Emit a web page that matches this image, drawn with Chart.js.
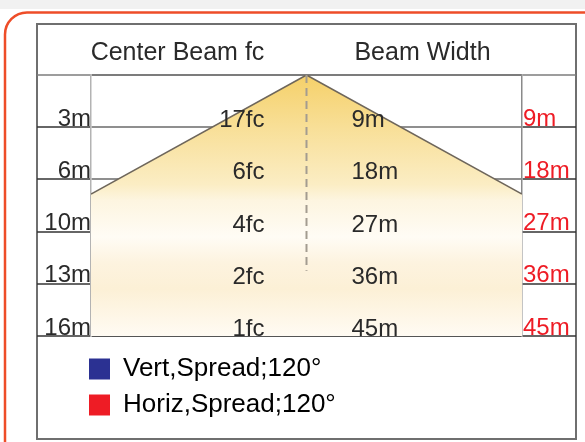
<!DOCTYPE html>
<html>
<head>
<meta charset="utf-8">
<script src="https://cdn.jsdelivr.net/npm/chart.js@4.4.1/dist/chart.umd.min.js"></script>
<style>
    html, body { margin: 0; padding: 0; background: #fff; }
    canvas { display: block; }
</style>
</head>
<body>
<canvas id="beamChart" width="585" height="442"></canvas>
<script>
// table values read from the sheet
const distances = ['3m', '6m', '10m', '13m', '16m'];
const centerBeamFc = ['17fc', '6fc', '4fc', '2fc', '1fc'];
const beamWidths = ['9m', '18m', '27m', '36m', '45m'];
const headers = ['Center Beam fc', 'Beam Width'];
const spreadNames = ['Vert', 'Horiz'];
const spreadAngles = [120, 120];
const beamAxisRows = [0, 3.75];

const spreadColors = ['#2b3192', '#ee1c25'];
const FONT = "'Liberation Sans', Arial, sans-serif";
const halfRange = 3.95; // half width of the drawing, in row units

Chart.defaults.font.family = FONT;

// beam outline: half the spread angle either side of the axis, until it meets the sides
const halfAngle = spreadAngles[0] / 2 * Math.PI / 180;
const edgeRow = halfRange / Math.tan(halfAngle);
const beamOutline = [
    { x: -halfRange, y: edgeRow },
    { x: 0, y: 0 },
    { x: halfRange, y: edgeRow }
];
const beamAxis = beamAxisRows.map(r => ({ x: 0, y: r }));

function beamFill(context) {
    const area = context.chart.chartArea;
    if (!area) {
        return 'rgba(0,0,0,0)';
    }
    const g = context.chart.ctx.createLinearGradient(0, area.top, 0, area.bottom);
    g.addColorStop(0, '#f5d069');
    g.addColorStop(0.2, '#f8df97');
    g.addColorStop(0.42, '#fbedc4');
    g.addColorStop(0.48, '#fdf5e0');
    g.addColorStop(0.62, '#fffcf5');
    g.addColorStop(0.72, '#fdf3df');
    g.addColorStop(0.82, '#fcf0d6');
    g.addColorStop(1, '#fffbf3');
    return g;
}

function rowGridColor(ctx) {
    const v = ctx.tick.value;
    if (v === 4) {
        return 'rgba(0,0,0,0)';
    }
    if (v === 0) {
        return '#7c7c7c';
    }
    if (v === distances.length) {
        return '#555555';
    }
    return '#8f8f8f';
}

function underlineColor(ctx) {
    return ctx.tick.value === 0 ? '#7c7c7c' : '#333333';
}

const tablePlugin = {
    id: 'beamTable',
    beforeDraw(chart) {
        const ctx = chart.ctx;
        const area = chart.chartArea;
        ctx.save();
        ctx.fillStyle = '#ffffff';
        ctx.fillRect(0, 0, chart.width, chart.height);
        ctx.fillStyle = '#f1f1f1';
        ctx.fillRect(0, 0, chart.width, 9);

        // orange card outline
        ctx.strokeStyle = '#ee4d28';
        ctx.lineWidth = 2.5;
        ctx.beginPath();
        ctx.moveTo(5, chart.height + 10);
        ctx.arcTo(5, 12.5, chart.width + 20, 12.5, 22);
        ctx.lineTo(chart.width + 20, 12.5);
        ctx.stroke();

        // table frame
        const left = chart.scales.y.left;
        const right = chart.scales.y2.right;
        ctx.strokeStyle = '#6f6f6f';
        ctx.lineWidth = 2;
        ctx.strokeRect(left, area.top - 51, right - left, 415);
        ctx.restore();
    },
    afterLayout(chart) {
        // put the legend under the left edge of the drawing
        const legend = chart.legend;
        legend.left = chart.chartArea.left - 12;
        legend.top += 10;
        legend.bottom += 10;
    },
    afterDraw(chart) {
        const ctx = chart.ctx;
        const area = chart.chartArea;
        const cx = chart.scales.x.getPixelForValue(0);
        const yScale = chart.scales.y;
        ctx.save();
        ctx.fillStyle = '#2a2a2a';
        ctx.textBaseline = 'alphabetic';

        ctx.font = '25px ' + FONT;
        ctx.textAlign = 'center';
        ctx.fillText(headers[0], cx - 129, area.top - 15);
        ctx.fillText(headers[1], cx + 116, area.top - 15);

        ctx.font = '24px ' + FONT;
        distances.forEach((d, i) => {
            const y = yScale.getPixelForValue(i + 1);
            ctx.textAlign = 'right';
            ctx.fillText(centerBeamFc[i], cx - 42, y);
            ctx.textAlign = 'left';
            ctx.fillText(beamWidths[i], cx + 45, y);
        });
        ctx.restore();
    }
};

const rowScale = {
    type: 'linear',
    reverse: true,
    min: 0,
    max: distances.length,
    z: 1,
    afterFit: function(scale) {
        scale.width = 54;
    },
    border: { color: '#b3b3b3', width: 1.5 },
    grid: {
        color: rowGridColor,
        lineWidth: 2,
        tickLength: 54,
        tickColor: underlineColor,
        tickWidth: 1.5
    }
};

new Chart(document.getElementById('beamChart'), {
    type: 'line',
    data: {
        datasets: [
            {
                label: 'beam axis',
                data: beamAxis,
                borderColor: '#a39c90',
                borderWidth: 2,
                borderDash: [8, 5],
                pointRadius: 0,
                fill: false,
                order: 1
            },
            {
                label: 'beam',
                data: beamOutline,
                borderColor: '#6e665b',
                borderWidth: 1.6,
                backgroundColor: beamFill,
                pointRadius: 0,
                fill: 'start',
                order: 2
            }
        ]
    },
    options: {
        responsive: false,
        animation: false,
        devicePixelRatio: 1,
        layout: {
            padding: { left: 37, right: 9, top: 75, bottom: 24 }
        },
        scales: {
            x: {
                type: 'linear',
                min: -halfRange,
                max: halfRange,
                display: false
            },
            y: Object.assign({}, rowScale, {
                position: 'left',
                ticks: {
                    stepSize: 1,
                    autoSkip: false,
                    padding: -54,
                    labelOffset: -8,
                    color: '#2a2a2a',
                    font: { size: 24 },
                    callback: v => (v > 0 ? distances[v - 1] : '')
                }
            }),
            y2: Object.assign({}, rowScale, {
                position: 'right',
                border: { color: '#8a8a8a', width: 1.5 },
                grid: Object.assign({}, rowScale.grid, { drawOnChartArea: false }),
                ticks: {
                    stepSize: 1,
                    autoSkip: false,
                    padding: -53,
                    labelOffset: -8,
                    color: '#ee1c25',
                    font: { size: 24 },
                    callback: v => (v > 0 ? beamWidths[v - 1] : '')
                }
            })
        },
        plugins: {
            tooltip: { enabled: false },
            legend: {
                position: 'bottom',
                align: 'start',
                fullSize: false,
                labels: {
                    boxWidth: 21,
                    boxHeight: 21,
                    padding: 10,
                    color: '#2a2a2a',
                    font: { size: 26 },
                    generateLabels: () => spreadNames.map((name, i) => ({
                        text: name + ',Spread;' + spreadAngles[i] + '°',
                        fillStyle: spreadColors[i],
                        strokeStyle: spreadColors[i],
                        lineWidth: 0,
                        hidden: false,
                        datasetIndex: i
                    }))
                }
            }
        }
    },
    plugins: [tablePlugin]
});
</script>
</body>
</html>
